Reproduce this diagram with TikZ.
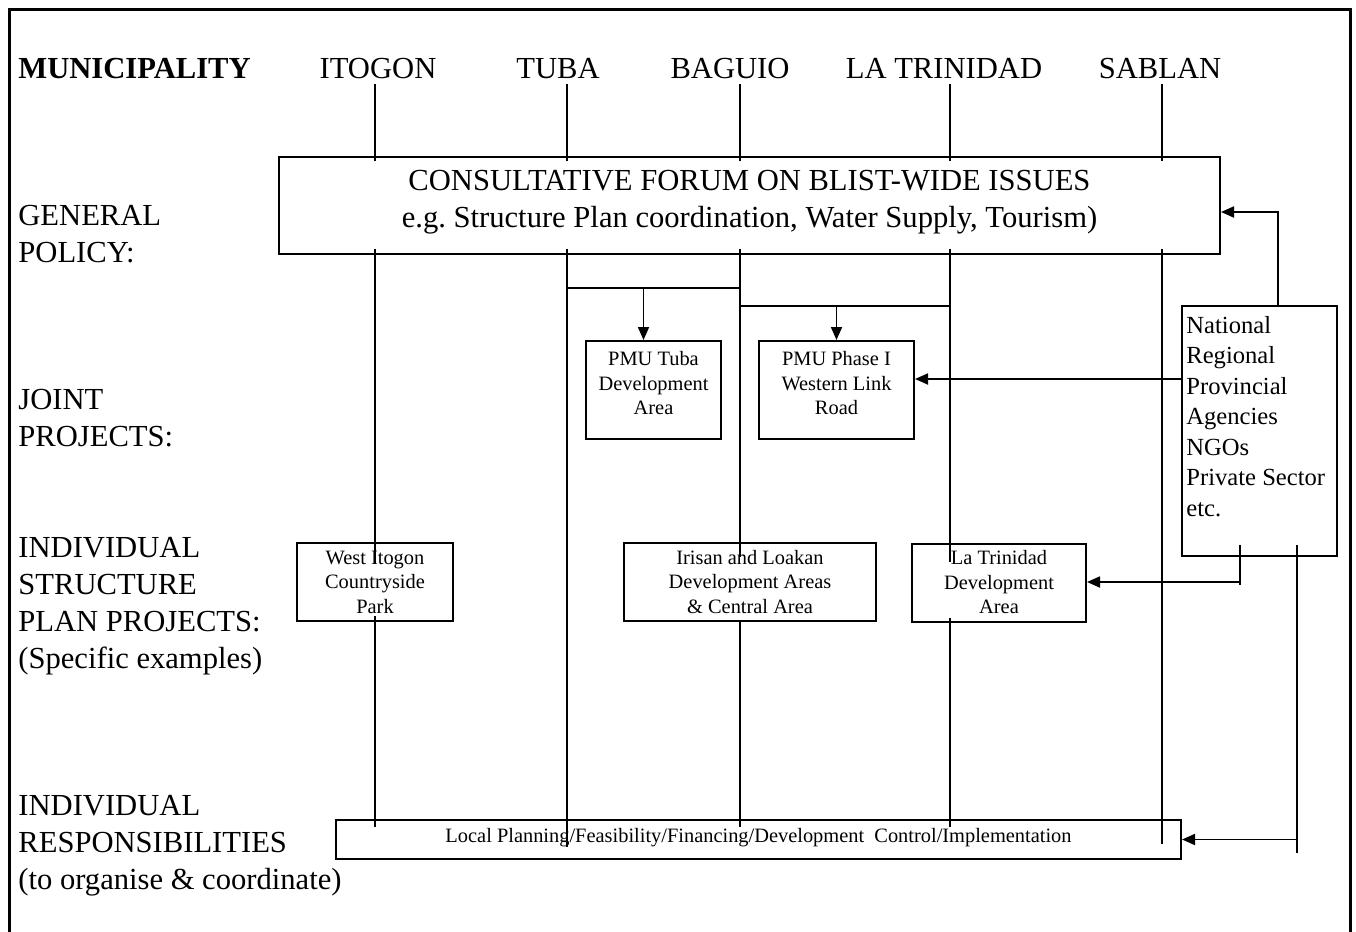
\documentclass[tikz,border=0pt]{standalone}
\usepackage{fontspec}
\setmainfont{Liberation Serif}
\usetikzlibrary{arrows.meta,calc}
\frenchspacing

\tikzset{
  big/.style={font=\fontsize{15.3}{18.4}\selectfont},
  mid/.style={font=\fontsize{12.3}{15.25}\selectfont},
  small/.style={font=\fontsize{10.2}{12.25}\selectfont},
  box/.style={draw, line width=1pt, align=center, inner sep=0pt},
  rule line/.style={line width=0.8pt},
  feed/.style={line width=0.9pt, -{Triangle[length=6.5pt,width=5.5pt]}},
}

\begin{document}
\begin{tikzpicture}[x=0.5pt,y=-0.5pt]
\useasboundingbox (0,0) rectangle (1356,932);
\draw[line width=1.5pt] (9,932) -- (9,9) -- (1350,9) -- (1350,932);

%Row labels
\node[big, anchor=base west, inner sep=0pt] (muni) at (18,78) {\bfseries MUNICIPALITY};
\begin{scope}[every node/.style={big, anchor=north west, inner sep=0pt, align=left}]
  \node (policy) at (18,205) {GENERAL\\POLICY:};
  \node (joint) at (18,389) {JOINT\\PROJECTS:};
  \node (plan) at (18,537) {INDIVIDUAL\\STRUCTURE\\PLAN PROJECTS:\\(Specific examples)};
  \node (resp) at (18,795) {INDIVIDUAL\\RESPONSIBILITIES\\(to organise \& coordinate)};
\end{scope}

%Municipalities
\begin{scope}[every node/.style={big, anchor=base, inner sep=0pt}]
  \node (itogon) at (378,78) {ITOGON};
  \node (tuba) at (558,78) {TUBA};
  \node (baguio) at (730,78) {BAGUIO};
  \node (latrinidad) at (944,78) {LA TRINIDAD};
  \node (sablan) at (1160,78) {SABLAN};
\end{scope}
\coordinate (c1) at (375,84);
\coordinate (c2) at (567,84);
\coordinate (c3) at (740,84);
\coordinate (c4) at (950,84);
\coordinate (c5) at (1162,84);

%Boxes
\node[box, big, minimum width=470.5pt, minimum height=48.5pt] (forum) at (749.5,205.5)
  {CONSULTATIVE FORUM ON BLIST-WIDE ISSUES\\e.g. Structure Plan coordination, Water Supply, Tourism)\rule[-7pt]{0pt}{0pt}};
\begin{scope}[every node/.style={box, small, minimum height=39pt}]
  \node[minimum width=67.5pt, minimum height=49pt] (pmutuba) at (653.5,390) {PMU Tuba\\Development\\Area\rule[-7pt]{0pt}{0pt}};
  \node[minimum width=77.5pt, minimum height=49pt] (pmuphase) at (836.5,390) {PMU Phase I\\Western Link\\Road\rule[-7pt]{0pt}{0pt}};
  \node[minimum width=78pt] (westitogon) at (375,582) {West Itogon\\Countryside\\Park};
  \node[minimum width=126pt] (irisan) at (750,582) {Irisan and Loakan\\Development Areas\\\& Central Area};
  \node[minimum width=87pt] (latrin) at (999,582.5) {La Trinidad\\Development\\Area};
  \node[minimum width=422.5pt, minimum height=19.5pt] (local) at (758.5,839.5)
    {Local Planning/Feasibility/Financing/Development\ \ Control/Implementation\rule[-4pt]{0pt}{0pt}};
\end{scope}
\node[box, anchor=north west, minimum width=77.5pt, minimum height=125pt] (ngo) at (1181,305) {};
\node[mid, align=left, anchor=north west, inner sep=0pt] (ngotext) at ($(ngo.north west)+(5,11)$)
  {National\\Regional\\Provincial\\Agencies\\NGOs\\Private Sector\\etc.};

%Lines
\foreach \c in {c1,c2,c3,c4,c5}
  \draw[rule line] (\c) -- ($(\c |- forum.north)+(0,5)$);
\draw[rule line] ($(c1 |- forum.south)+(0,-6)$) -- ($(c1 |- westitogon.north)+(0,22)$);
\draw[rule line] ($(c1 |- westitogon.south)+(0,-6)$) -- ($(c1 |- local.north)+(0,8)$);
\draw[rule line] ($(c2 |- forum.south)+(0,-6)$) -- ($(c2 |- local.north)+(0,28)$);
\draw[rule line] ($(c3 |- forum.south)+(0,-6)$) -- ($(c3 |- irisan.north)+(0,15)$);
\draw[rule line] (c3 |- irisan.south) -- ($(c3 |- local.north)+(0,8)$);
\draw[rule line] ($(c4 |- forum.south)+(0,-6)$) -- ($(c4 |- latrin.north)+(0,19)$);
\draw[rule line] ($(c4 |- latrin.south)+(0,-5)$) -- ($(c4 |- local.north)+(0,8)$);
\draw[rule line] ($(c5 |- forum.south)+(0,-6)$) -- ($(c5 |- local.north)+(0,25)$);

%Joint project links
\coordinate (b1) at ($(c2 |- forum.south)+(0,33)$);
\coordinate (b2) at ($(c3 |- forum.south)+(0,51)$);
\coordinate (t1) at ($(pmutuba.north)+(-10,0)$);
\draw[rule line] (b1) -- (b1 -| c3);
\draw[rule line] (b2) -- (b2 -| c4);
\draw[feed] (b1 -| t1) -- (t1);
\draw[feed] (b2 -| pmuphase.north) -- (pmuphase.north);

%Agency links
\coordinate (n1) at ($(ngo.north)+(18.5,0)$);
\coordinate (n2) at ($(ngo.north west)+(0,74)$);
\coordinate (n3) at ($(ngo.south)+(-19.5,-12)$);
\coordinate (n4) at ($(n3)+(0,37)$);
\coordinate (n5) at ($(ngo.south)+(37.5,-12)$);
\draw[feed] (n1) |- ($(forum.east)+(0,6.5)$);
\draw[feed] (n2) -- (n2 -| pmuphase.east);
\draw[rule line] (n3) -- ++(0,40);
\draw[feed] (n4) -- (n4 -| latrin.east);
\draw[rule line] (n5) -- ($(n5 |- local.south)+(0,-7)$);
\draw[feed] (n5 |- local.east) -- (local.east);
\end{tikzpicture}
\end{document}
